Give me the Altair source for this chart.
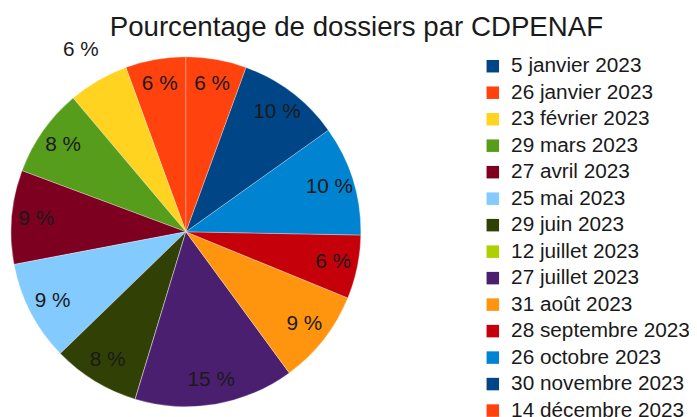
import altair as alt
import pandas as pd

dates = [
    "5 janvier 2023", "26 janvier 2023", "23 février 2023", "29 mars 2023",
    "27 avril 2023", "25 mai 2023", "29 juin 2023", "12 juillet 2023",
    "27 juillet 2023", "31 août 2023", "28 septembre 2023", "26 octobre 2023",
    "30 novembre 2023", "14 décembre 2023",
]
values = [0, 5.6, 5.6, 8.2, 8.7, 9.3, 8.1, 0, 14.8, 8.8, 5.9, 10.2, 9.6, 5.6]
colors = [
    "#004586", "#ff420e", "#ffd320", "#579d1c", "#7e0021", "#83caff", "#314004",
    "#aecf00", "#4b1f6f", "#ff950e", "#c5000b", "#0084d1", "#004586", "#ff420e",
]
outside_label = "23 février 2023"

df = pd.DataFrame({"date": dates, "value": values, "idx": list(range(len(dates)))})
total = float(sum(values))

CX, CY, R = 180, 179, 177

theta_scale = alt.Scale(domain=[0, total])

base = alt.Chart(df).transform_stack(
    stack="value",
    groupby=[],
    as_=["v0", "v1"],
    sort=[alt.SortField("idx", order="descending")],
).transform_calculate(
    mid="(datum.v0 + datum.v1) / 2",
    label=f"format(round(datum.value / {total} * 100), 'd') + ' %'",
)

pie = base.mark_arc(radius=R, stroke="white", strokeWidth=0.6, strokeOpacity=0.5).encode(
    theta=alt.Theta("v0:Q", scale=theta_scale),
    theta2="v1:Q",
    x=alt.value(CX),
    y=alt.value(CY),
    color=alt.Color(
        "date:N",
        sort=dates,
        scale=alt.Scale(domain=dates, range=colors),
        legend=alt.Legend(
            title=None,
            orient="none",
            legendX=480,
            legendY=1,
            symbolType="square",
            symbolSize=160,
            symbolStrokeWidth=0,
            labelFontSize=21,
            labelFont="Liberation Sans",
            labelColor="#1a1a1a",
            labelOffset=8,
            rowPadding=4.8,
            padding=0,
            labelLimit=400,
        ),
    ),
)

inner = base.transform_filter(
    f"datum.value > 0 && datum.date != '{outside_label}'"
).mark_text(
    radius=152, fontSize=21, font="Liberation Sans", color="#1a1a1a"
).encode(
    theta=alt.Theta("mid:Q", scale=theta_scale),
    x=alt.value(CX),
    y=alt.value(CY),
    text="label:N",
)

outer = base.transform_filter(
    f"datum.date == '{outside_label}'"
).mark_text(
    radius=212, fontSize=21, font="Liberation Sans", color="#1a1a1a"
).encode(
    theta=alt.Theta("mid:Q", scale=theta_scale),
    x=alt.value(CX),
    y=alt.value(CY),
    text="label:N",
)

chart = alt.layer(pie, inner, outer).properties(
    width=689,
    height=364,
    padding={"left": 0, "top": 45, "right": 0, "bottom": 0},
    autosize="none",
    title=alt.TitleParams(
        "Pourcentage de dossiers par CDPENAF",
        fontSize=28,
        font="Liberation Sans",
        fontWeight="normal",
        color="#1a1a1a",
        anchor="middle",
        dx=8,
        dy=12,
        offset=10,
    ),
).configure_view(stroke=None)

chart.save("out.html", embed_options={"renderer": "svg", "actions": False})
